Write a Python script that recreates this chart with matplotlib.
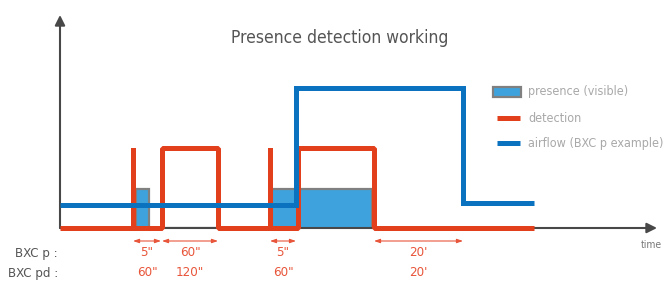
import matplotlib.pyplot as plt
from matplotlib.patches import Rectangle

# timeline in nominal units (0 = axis origin)
det_t = [0, 73, 73, 73, 102, 102, 158, 158, 210, 210, 210, 238, 238, 314, 314, 474]
det_y = [0, 0, 80, 0, 0, 80, 80, 0, 0, 80, 0, 0, 80, 80, 0, 0]

air_t = [0, 236, 236, 403, 403, 474]
air_y = [23, 23, 140, 140, 25, 25]

pres_start = [76, 212]
pres_end = [89, 312]
pres_level = 39

spans = [(73, 101), (102, 158), (210, 236), (314, 403)]
bxc_p = ['5"', '60"', '5"', "20'"]
bxc_pd = ['60"', '120"', '60"', "20'"]

red = '#E2401C'
blue = '#0A72BE'
fill = '#3EA3DD'
outline = '#808080'
axis_c = '#484848'
ann_red = '#E8553A'
fnt = dict(family='DejaVu Sans', stretch='condensed')

fig = plt.figure(figsize=(6.64, 2.82), dpi=100)
ax = fig.add_axes([60 / 664, 54 / 282, 597 / 664, 213 / 282])
ax.set_xlim(0, 597)
ax.set_ylim(0, 213)
ax.axis('off')

# axes with arrow heads
ax.annotate('', xy=(0, 213), xytext=(0, 0),
            arrowprops=dict(arrowstyle='-|>,head_length=0.6,head_width=0.3', color=axis_c, lw=1.5, shrinkA=0, shrinkB=0),
            annotation_clip=False)
ax.annotate('', xy=(597, 0), xytext=(0, 0),
            arrowprops=dict(arrowstyle='-|>,head_length=0.6,head_width=0.3', color=axis_c, lw=1.5, shrinkA=0, shrinkB=0),
            annotation_clip=False)

# presence signal
pres_t = [0]
pres_y = [0]
for s, e in zip(pres_start, pres_end):
    ax.add_patch(Rectangle((s, 0), e - s, pres_level, facecolor=fill, edgecolor='none', zorder=2))
    pres_t += [s, s, e, e]
    pres_y += [0, pres_level, pres_level, 0]
pres_t.append(474)
pres_y.append(0)
ax.plot(pres_t, pres_y, color=outline, lw=1.6, zorder=2.5, solid_joinstyle='miter')

ax.plot(det_t, det_y, color=red, lw=3.6, zorder=3, solid_joinstyle='bevel', solid_capstyle='butt', clip_on=False)
ax.plot(air_t, air_y, color=blue, lw=3.6, zorder=4, solid_joinstyle='miter', solid_capstyle='butt', clip_on=False)

# duration arrows and labels
for (a, b), p, pd in zip(spans, bxc_p, bxc_pd):
    ax.annotate('', xy=(b, -13), xytext=(a, -13),
                arrowprops=dict(arrowstyle='<|-|>,head_length=0.35,head_width=0.12', color=ann_red, lw=0.8,
                                shrinkA=0, shrinkB=0),
                annotation_clip=False)
    m = (a + b) / 2
    ax.text(m, -25, p, color=ann_red, fontsize=9.5, ha='center', va='center', **fnt)
    ax.text(m, -45, pd, color=ann_red, fontsize=9.5, ha='center', va='center', **fnt)

ax.text(-2, -25, 'BXC p :', color='#555555', fontsize=9.5, ha='right', va='center', **fnt)
ax.text(-2, -45, 'BXC pd :', color='#555555', fontsize=9.5, ha='right', va='center', **fnt)
ax.text(591, -17, 'time', color='#777777', fontsize=7.5, ha='center', va='center', **fnt)

ax.text(280, 190, 'Presence detection working', color='#555555', fontsize=12.5, ha='center', va='center', **fnt)

# legend
leg_c = '#A8A8A8'
ax.add_patch(Rectangle((433, 131), 28, 10, facecolor=fill, edgecolor=outline, lw=1.6, zorder=3, clip_on=False))
ax.plot([437, 460], [110, 110], color=red, lw=3.6, solid_capstyle='butt', clip_on=False)
ax.plot([437, 460], [85, 85], color=blue, lw=3.6, solid_capstyle='butt', clip_on=False)
ax.text(468, 136, 'presence (visible)', color=leg_c, fontsize=9, ha='left', va='center', **fnt)
ax.text(468, 110, 'detection', color=leg_c, fontsize=9, ha='left', va='center', **fnt)
ax.text(468, 85, 'airflow (BXC p example)', color=leg_c, fontsize=9, ha='left', va='center', **fnt)

fig.savefig('out.png', dpi=100)
